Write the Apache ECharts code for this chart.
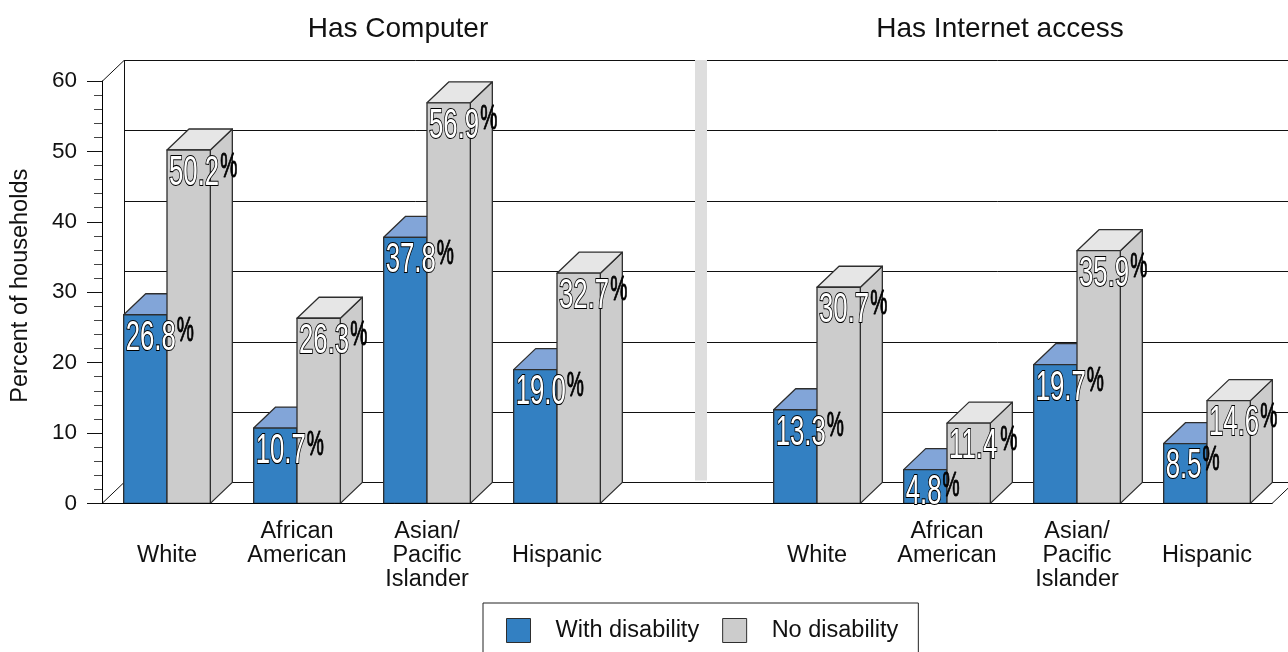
<!DOCTYPE html>
<html><head><meta charset="utf-8">
<style>html,body{margin:0;padding:0;background:#fff;overflow:hidden}#c{width:1288px;height:652px}</style>
<script src="https://cdn.jsdelivr.net/npm/echarts@6/dist/echarts.min.js"></script>
</head><body><div id="c"></div>
<script>
const categories = ['\nWhite\n ','African\nAmerican\n ','Asian/\nPacific\nIslander','\nHispanic\n ','','\nWhite\n ','African\nAmerican\n ','Asian/\nPacific\nIslander','\nHispanic\n '];
const withDisability = [26.8,10.7,37.8,19.0,null,13.3,4.8,19.7,8.5];
const noDisability = [50.2,26.3,56.9,32.7,null,30.7,11.4,35.9,14.6];
const yTicks = [0,10,20,30,40,50,60];
const panelTitles = ['Has Computer','Has Internet access'];
const seriesNames = ['With disability','No disability'];
const separatorCategory = 4;

const DX = 22, DY = -21, FONT = 'Liberation Sans, Arial, sans-serif';
const LINE = '#2e2e2e';

function bar(side, front, top, sideColor){
  return function(params, api){
    const v = api.value(1);
    if (v == null || isNaN(v)) return;
    const c = api.coord([api.value(0), v]);
    const base = api.coord([api.value(0), 0])[1];
    const w = api.size([1,0])[0] / 3;
    const x0 = side < 0 ? c[0]-w : c[0], x1 = x0 + w, y = c[1];
    const st = {stroke:LINE, lineWidth:1.3, lineJoin:'round'};
    return {type:'group', children:[
      {type:'polygon', shape:{points:[[x1,y],[x1+DX,y+DY],[x1+DX,base+DY],[x1,base]]}, style:Object.assign({fill:sideColor},st)},
      {type:'polygon', shape:{points:[[x0,y],[x0+DX,y+DY],[x1+DX,y+DY],[x1,y]]}, style:Object.assign({fill:top},st)},
      {type:'rect', shape:{x:x0,y:y,width:w,height:base-y}, style:Object.assign({fill:front},st)}
    ]};
  };
}

function labels(side){
  return function(params, api){
    const v = api.value(1);
    if (v == null || isNaN(v)) return;
    const c = api.coord([api.value(0), v]);
    const w = api.size([1,0])[0] / 3;
    const x0 = side < 0 ? c[0]-w : c[0];
    const s = v.toFixed(1);
    const sx = 0.6, fs = 43;
    const tw = ((s.length-1)*0.556 + 0.278) * fs * sx;
    return {type:'group', children:[
      {type:'text', x:x0+2, y:c[1]+23, scaleX:sx, scaleY:1,
       style:{text:s, x:0, y:0, fill:'#fff', stroke:'#000', lineWidth:2.2, font:fs+'px '+FONT, textAlign:'left', textVerticalAlign:'middle'}},
      {type:'text', x:x0+2+tw+1, y:c[1]+17, scaleX:0.55, scaleY:1,
       style:{text:'%', x:0, y:0, fill:'#000', stroke:'#000', lineWidth:1, font:'35px '+FONT, textAlign:'left', textVerticalAlign:'middle'}}
    ]};
  };
}

function wall(params, api){
  const v = api.value(1), cs = params.coordSys;
  const y = Math.round(api.coord([0,v])[1]) + 0.5;
  const left = cs.x, right = cs.x + cs.width;
  const ln = (a,b,c,d)=>({type:'line', shape:{x1:a,y1:b,x2:c,y2:d}, style:{stroke:'#111', lineWidth:1}});
  const ch = [ln(left+DX,y+DY,1300,y+DY)];
  if (v === yTicks[0] || v === yTicks[yTicks.length-1]) ch.push(ln(left,y,left+DX,y+DY));
  if (v === yTicks[0]) {
    ch.push(ln(right,y,right+DX,y+DY));
    ch.push(ln(left+DX+0.5,y+DY,left+DX+0.5,Math.round(api.coord([0,yTicks[yTicks.length-1]])[1])+0.5+DY));
  }
  return {type:'group', children:ch};
}

function separator(params, api){
  const c = api.coord([api.value(0), api.value(1)]);
  const b = api.coord([api.value(0), 0]);
  return {type:'rect', shape:{x:c[0]+8, y:c[1]+DY, width:12, height:b[1]-c[1]-2}, style:{fill:'#dedede'}};
}

const rows = list => list.map((v,i)=>[i,v]);
const chart = echarts.init(document.getElementById('c'), null, {renderer:'canvas'});
const BLUE = '#3380c2', GRAY = '#cccccc';
chart.setOption({
  animation:false,
  backgroundColor:'#fff',
  title:[
    {text:panelTitles[0], left:398, top:15, padding:0, textAlign:'center', textStyle:{fontFamily:FONT,fontWeight:'normal',fontSize:28,color:'#111'}},
    {text:panelTitles[1], left:1000, top:15, padding:0, textAlign:'center', textStyle:{fontFamily:FONT,fontWeight:'normal',fontSize:28,color:'#111'}}
  ],
  legend:{
    left:483, top:603, orient:'horizontal', padding:[15,20,15,23], itemGap:23, itemWidth:24, itemHeight:24,
    borderColor:'#222', borderWidth:1, selectedMode:false,
    textStyle:{fontFamily:FONT, fontSize:23.5, color:'#111', padding:[0,0,0,20]},
    data:[
      {name:seriesNames[0], icon:'rect', itemStyle:{color:BLUE,borderColor:LINE,borderWidth:1}},
      {name:seriesNames[1], icon:'rect', itemStyle:{color:GRAY,borderColor:LINE,borderWidth:1}}
    ]
  },
  grid:{left:102, top:81, width:1170, height:422.4, containLabel:false, outerBoundsMode:'none'},
  xAxis:{type:'category', data:categories, z:6,
    axisLine:{show:true,lineStyle:{color:'#000',width:1}}, axisTick:{show:false},
    axisLabel:{interval:0, margin:16, fontFamily:FONT, fontSize:23.5, lineHeight:24, color:'#111', align:'center', verticalAlign:'top'}},
  yAxis:{type:'value', min:0, max:60, interval:10, z:6, name:'Percent of households', nameLocation:'middle', nameGap:69, nameRotate:90,
    nameTextStyle:{fontFamily:FONT,fontSize:23.5,color:'#111',padding:[0,0,0,13]},
    axisLine:{show:true,lineStyle:{color:'#000',width:1}},
    axisTick:{show:true,length:15,lineStyle:{color:'#111'}},
    minorTick:{show:true,splitNumber:5,length:8,lineStyle:{color:'#444'}},
    splitLine:{show:false}, minorSplitLine:{show:false},
    axisLabel:{margin:25,fontFamily:FONT,fontSize:22.5,color:'#111',padding:[7,0,0,0]}},
  series:[
    {type:'custom', name:'wall', coordinateSystem:'cartesian2d', z:1, silent:true, renderItem:wall, data:yTicks.map(v=>[0,v]), encode:{x:0,y:1}},
    {type:'custom', name:'separator', coordinateSystem:'cartesian2d', z:2, silent:true, renderItem:separator, data:[[separatorCategory,yTicks[yTicks.length-1]]], encode:{x:0,y:1}},
    {type:'custom', name:seriesNames[0], coordinateSystem:'cartesian2d', z:3, renderItem:bar(-1,BLUE,'#82a5d8',BLUE), itemStyle:{color:BLUE}, data:rows(withDisability), encode:{x:0,y:1}},
    {type:'custom', name:seriesNames[1], coordinateSystem:'cartesian2d', z:4, renderItem:bar(1,GRAY,'#e6e6e6',GRAY), itemStyle:{color:GRAY}, data:rows(noDisability), encode:{x:0,y:1}},
    {type:'custom', name:'lblA', coordinateSystem:'cartesian2d', z:8, silent:true, renderItem:labels(-1), data:rows(withDisability), encode:{x:0,y:1}},
    {type:'custom', name:'lblB', coordinateSystem:'cartesian2d', z:8, silent:true, renderItem:labels(1), data:rows(noDisability), encode:{x:0,y:1}}
  ]
});
</script></body></html>
